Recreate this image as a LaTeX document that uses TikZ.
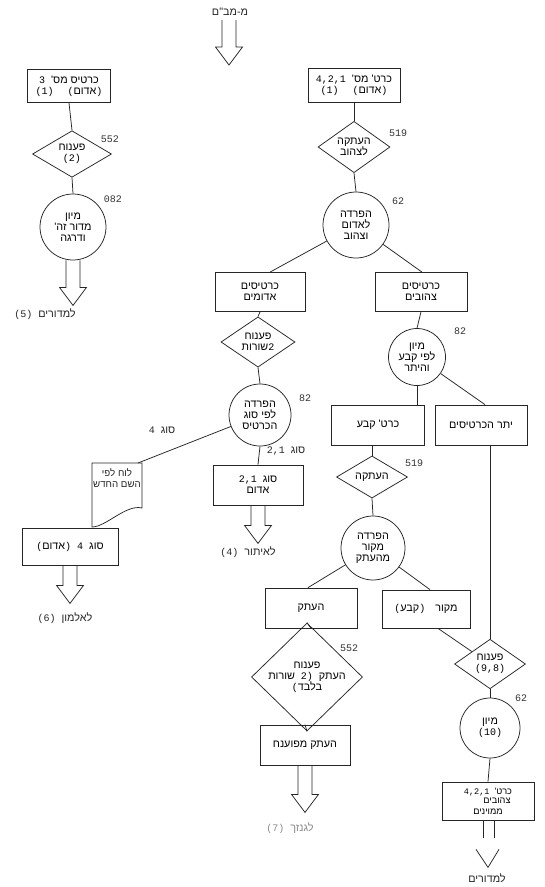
\documentclass[tikz,border=0pt]{standalone}
\usepackage{fontspec}
\setmainfont{Liberation Mono}
\newfontfamily\hebfont[Script=Hebrew,Scale=1.08]{Liberation Sans}
\TeXXeTstate=1
\usetikzlibrary{shapes.geometric,calc}
% a Hebrew phrase, set right to left
\newcommand\hbw[1]{{\hebfont\beginR #1\endR}}
\newcommand\txtfont{\fontsize{10}{11}\selectfont}
\newcommand\numfont{\fontsize{10}{10}\selectfont}
% open-topped hollow arrow pointing down: start point, length
\newcommand\hollowdown[2]{%
  \draw[ink] ($(#1)+(-7,0)$) -- ++(0,#2-18) -- ++(-6.5,0) -- ($(#1)+(0,#2)$)
    -- ($(#1)+(13.5,#2-18)$) -- ++(-6.5,0) -- ($(#1)+(7,0)$);}
\tikzset{
  ink/.style={draw=black!85, line width=0.75pt},
  card/.style={ink, rectangle, inner sep=1pt, align=center, font=\txtfont},
  decide/.style={ink, diamond, inner sep=0pt, align=center, font=\txtfont},
  proc/.style={ink, circle, inner sep=0pt, align=center, font=\txtfont},
  tag/.style={font=\numfont, text=black!80},
  caption/.style={font=\txtfont, text=black!85, align=center},
}
\begin{document}
\begin{tikzpicture}[x=1pt,y=-1pt]
\fill[white] (0,0) rectangle (544,887);
\useasboundingbox (0,0) rectangle (544,887);

% ---- entry from the centre ----
\node[caption] (entrylbl) at (230,12) {\hbw{מ-מב"ם}};
\coordinate (entry) at (229,20);
\hollowdown{entry}{45}

% ---- left column: card no. 3 ----
\node[card, minimum width=83pt, minimum height=33pt] (cardA) at (69,86)
  {3\ \hbw{כרטיס מס'}\\(1)\hspace{14pt}(\hbw{אדום})};
\node[decide, minimum width=79pt, minimum height=43pt] (decA) at (72,154)
  {\hbw{פענוח}\\(2)};
\node[proc, minimum size=66pt] (sortA) at (73,227)
  {\hbw{מיון}\\\hbw{מדור זה'}\\\hbw{ודרגה}};
\node[tag] (n552a) at (110,139) {552};
\node[tag] (n082) at (113,199) {082};
\draw[ink] (cardA.south) -- (decA.north);
\draw[ink] (decA.south) -- (sortA.north);
\coordinate (outA) at (sortA.south);
\hollowdown{outA}{45}
\node[caption] (toA) at (45,314) {(5)\ \hbw{למדורים}};

% ---- main column: cards 1,2,4 ----
\node[card, minimum width=92pt, minimum height=34pt] (cardB) at (354,85)
  {4,2,1\ \hbw{כרט' מס'}\\(1)\hspace{14pt}(\hbw{אדום})};
\node[decide, minimum width=72pt, minimum height=41pt] (copyB) at (354,147)
  {\hbw{העתקה}\\\hbw{לצהוב}};
\node[proc, minimum size=66pt] (splitB) at (356,225)
  {\hbw{הפרדה}\\\hbw{לאדום}\\\hbw{וצהוב}};
\node[tag] (n519a) at (398,133) {519};
\node[tag] (n62a) at (398,201) {62};
\draw[ink] (cardB.south) -- (copyB.north);
\draw[ink] (copyB.south) -- (splitB.north);

% ---- red cards branch ----
\node[card, minimum width=90pt, minimum height=39pt] (red) at (260,292)
  {\hbw{כרטיסים}\\\hbw{אדומים}};
\node[decide, minimum width=74pt, minimum height=40pt] (decRed) at (258,342)
  {\hbw{פענוח}\\\hbw{שורות}2};
\node[proc, minimum size=62pt] (byType) at (260,415)
  {\hbw{הפרדה}\\\hbw{לפי סוג}\\\hbw{הכרטיס}};
\node[tag] (n82a) at (305,398) {82};
\node[card, minimum width=90pt, minimum height=40pt] (type12) at (258,485)
  {2,1\ \hbw{סוג}\\\hbw{אדום}\hspace{12pt}};
\node[caption] (lbl12) at (286,451) {2,1\ \hbw{סוג}};
\draw[ink] (splitB) -- ($(red.north)+(10,0)$);
\draw[ink] (red.south) -- (decRed.north);
\draw[ink] (decRed.south) -- (byType.north);
\draw[ink] (byType.south) -- (type12.north);
\coordinate (out4) at (type12.south);
\hollowdown{out4}{38}
\node[caption] (to4) at (248,552) {(4)\ \hbw{לאיתור}};

% type 4: listing, then card out
\node[caption, inner sep=1pt, anchor=north, font=\fontsize{9}{11}\selectfont]
  (memo) at (117,467) {\hbw{לוח לפי}\\\hbw{השם החדש}};
\draw[ink] ($(memo.north)+(-25,-4)$) -- ($(memo.north)+(25,-4)$)
  -- ($(memo.north)+(25,41)$) .. controls +(-16,-4) and +(14,0) ..
  ($(memo.north)+(-25,60)$) -- cycle;
\node[caption] (lbl4) at (162,430) {4\ \hbw{סוג}};
\draw[ink] (byType) -- ($(memo.north)+(21,-4)$);
\node[card, minimum width=96pt, minimum height=37pt] (type4) at (70,546.5)
  {(\hbw{אדום})\ 4\ \hbw{סוג}};
\coordinate (out6) at (type4.south);
\hollowdown{out6}{38}
\node[caption] (to6) at (65,618) {(6)\ \hbw{לאלמון}};

% ---- yellow cards branch ----
\node[card, minimum width=92pt, minimum height=39pt] (yellow) at (421,292)
  {\hbw{כרטיסים}\\\hbw{צהובים}};
\node[proc, minimum size=57pt] (sortY) at (417,357)
  {\hbw{מיון}\\\hbw{לפי קבע}\\\hbw{והיתר}};
\node[tag] (n82b) at (460,331) {82};
\draw[ink] (splitB) -- ($(yellow.north)+(1,0)$);
\draw[ink] (yellow.south) -- (sortY.north);
\node[card, minimum width=93pt, minimum height=40pt] (fixed) at (378,425)
  {\hbw{כרט' קבע}};
\node[card, minimum width=92pt, minimum height=40pt] (rest) at (481,425)
  {\hbw{יתר הכרטיסים}};
\draw[ink] (sortY.south) -- (sortY.south |- fixed.north);
\draw[ink] (sortY) -- ($(rest.north)+(4,0)$);

\node[decide, minimum width=71pt, minimum height=41pt] (copyF) at (372,477)
  {\hbw{העתקה}};
\node[tag] (n519b) at (414,463) {519};
\draw[ink] (copyF.north |- fixed.south) -- (copyF.north);
\node[proc, minimum size=64pt] (splitF) at (373,548)
  {\hbw{הפרדה}\\\hbw{מקור}\\\hbw{מהעתק}};
\draw[ink] (copyF.south) -- (splitF.north);

\node[card, minimum width=92pt, minimum height=40pt] (dup) at (311,608)
  {\hbw{העתק}};
\node[card, minimum width=88pt, minimum height=38pt] (orig) at (426,609)
  {(\hbw{קבע})\hspace{10pt}\hbw{מקור}};
\draw[ink] (splitF) -- ($(dup.north)+(-3,0)$);
\draw[ink] (splitF) -- ($(orig.north)+(4,0)$);

\node[decide, minimum width=111pt, minimum height=65pt] (decDup) at (307,677)
  {\hbw{פענוח}\\\hbw{שורות}\ 2)\ \hbw{העתק}\\(\hbw{בלבד}};
\node[tag] (n552b) at (349,648) {552};
\draw[ink] (dup.south) -- (decDup.north);
\node[card, minimum width=90pt, minimum height=40pt] (dupDone) at (305,745)
  {\hbw{העתק מפוענח}};
\draw[ink] (decDup.south) -- (dupDone.north);
\coordinate (out7) at (dupDone.south);
\hollowdown{out7}{47}
\node[caption, text=black!45] (to7) at (290,828) {(7)\ \hbw{לגנזך}};

\node[decide, minimum width=71pt, minimum height=42pt] (decOrig) at (490,664)
  {\hbw{פענוח}\\(9,8)};
\draw[ink] ($(orig.south)+(12,0)$) -- (decOrig);
\draw[ink] (decOrig.north |- rest.south) -- (decOrig.north);
\node[proc, minimum size=60pt] (sortO) at (490,728)
  {\hbw{מיון}\\(10)};
\node[tag] (n62b) at (521,698) {62};
\draw[ink] (decOrig.south) -- (sortO.north);
\node[card, minimum width=92pt, minimum height=38pt, font=\fontsize{8.5}{9.5}\selectfont] (final) at (488,801)
  {4,2,1\ \hbw{כרט'}\\\hspace{18pt}\hbw{צהובים}\\[1pt]\hbw{ממוינים}};
\draw[ink] (sortO.south) -- (final.north);

% open arrow to the departments
\draw[ink] ($(final.south)+(-5,0)$) -- ++(0,18);
\draw[ink] ($(final.south)+(6,0)$) -- ++(0,18);
\draw[ink] ($(final.south)+(-12,29)$) -- ($(final.south)+(0,47)$) -- ($(final.south)+(11,29)$);
\node[caption] (toDeps) at (487,878) {\hbw{למדורים}};
\end{tikzpicture}
\end{document}
